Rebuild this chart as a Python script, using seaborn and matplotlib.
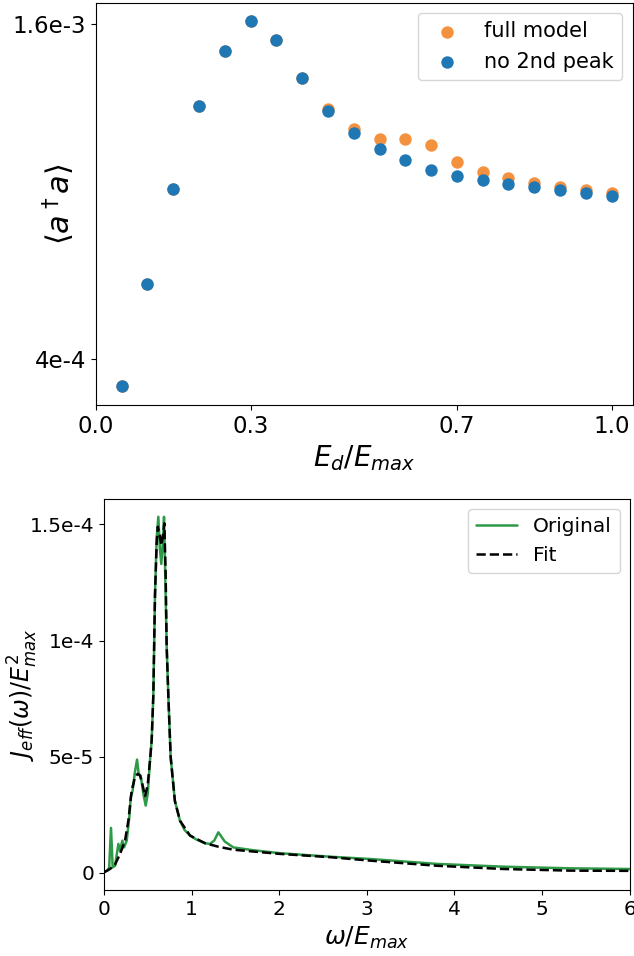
import matplotlib
matplotlib.use("Agg")
import matplotlib.pyplot as plt
import seaborn as sns
import numpy as np
from matplotlib.ticker import NullLocator, FixedLocator

# top panel: occupation vs drive strength
E_d = [0.05, 0.10, 0.15, 0.20, 0.25, 0.30, 0.35, 0.40, 0.45, 0.50,
       0.55, 0.60, 0.65, 0.70, 0.75, 0.80, 0.85, 0.90, 0.95, 1.00]
n_full = [3.57e-4, 5.45e-4, 8.06e-4, 1.139e-3, 1.429e-3, 1.62e-3, 1.499e-3, 1.277e-3,
          1.126e-3, 1.037e-3, 0.994e-3, 0.994e-3, 0.968e-3, 0.904e-3, 0.866e-3,
          0.844e-3, 0.829e-3, 0.815e-3, 0.803e-3, 0.794e-3]
n_no2nd = [3.57e-4, 5.45e-4, 8.06e-4, 1.139e-3, 1.429e-3, 1.62e-3, 1.499e-3, 1.277e-3,
           1.115e-3, 1.018e-3, 0.954e-3, 0.909e-3, 0.874e-3, 0.853e-3, 0.837e-3,
           0.824e-3, 0.814e-3, 0.804e-3, 0.795e-3, 0.785e-3]

# bottom panel: effective spectral density (units of 1e-6)
omega_orig = [0.0, 0.04, 0.06, 0.081, 0.10, 0.127, 0.165, 0.184, 0.21, 0.229, 0.26,
              0.29, 0.306, 0.328, 0.351, 0.378, 0.397, 0.42, 0.45, 0.477, 0.50,
              0.526, 0.545, 0.564, 0.583, 0.602, 0.621, 0.638, 0.655, 0.672, 0.686,
              0.697, 0.716, 0.735, 0.762, 0.81, 0.868, 0.92, 0.983, 1.05, 1.154,
              1.211, 1.26, 1.306, 1.38, 1.477, 1.7, 2.01, 2.58, 3.04, 3.8, 4.56,
              5.32, 6.0]
J_orig = [0.3, 1.0, 2.4, 19.4, 2.4, 3.1, 12.5, 9.6, 13.9, 11.0, 13.9,
          24.0, 32.6, 35.5, 42.7, 48.8, 42.7, 41.9, 34.0, 29.0, 34.0,
          48.4, 57.0, 76.5, 119.5, 144.0, 153.3, 140.0, 133.0, 142.0, 153.3,
          133.9, 98.0, 76.5, 49.8, 31.0, 22.5, 18.5, 16.1, 14.5, 12.8,
          12.5, 14.0, 17.5, 13.5, 11.0, 9.8, 8.5, 7.0, 6.0, 3.9, 2.7,
          2.0, 1.7]
omega_fit = [0.0, 0.07, 0.127, 0.184, 0.241, 0.279, 0.317, 0.355, 0.386, 0.412,
             0.438, 0.47, 0.50, 0.526, 0.545, 0.564, 0.583, 0.602, 0.615, 0.635,
             0.655, 0.672, 0.69, 0.705, 0.716, 0.735, 0.762, 0.81, 0.868, 0.983,
             1.154, 1.306, 1.477, 2.01, 2.58, 3.04, 3.8, 4.56, 5.32, 6.0]
J_fit = [0.3, 1.7, 3.6, 8.2, 13.9, 22.5, 35.5, 41.2, 42.7, 41.9,
         38.4, 33.0, 38.0, 48.4, 57.0, 76.5, 119.5, 142.0, 149.0, 146.0,
         141.0, 145.0, 150.5, 128.0, 98.0, 76.5, 49.8, 31.0, 22.5, 16.1,
         12.8, 11.3, 10.0, 8.2, 6.8, 5.3, 3.1, 1.7, 1.0, 0.9]

sns.set_style("ticks", {"axes.edgecolor": "black", "text.color": "black",
                        "axes.labelcolor": "black", "xtick.color": "black",
                        "ytick.color": "black"})
plt.rcParams["font.family"] = ["DejaVu Sans"]
plt.rcParams["mathtext.fontset"] = "dejavusans"

fig = plt.figure(figsize=(6.34, 9.56), dpi=100)
ax1 = fig.add_axes([0.1511, 0.5764, 0.847, 0.4208])
ax2 = fig.add_axes([0.1639, 0.069, 0.8292, 0.409])

sns.scatterplot(x=E_d, y=n_full, ax=ax1, color="#f4913f", s=80, linewidth=0,
                label="full model")
sns.scatterplot(x=E_d, y=n_no2nd, ax=ax1, color="#1f77b4", s=80, linewidth=0,
                label="no 2nd peak")
ax1.set_yscale("log")
ax1.set_xlim(0, 1.041)
ax1.set_ylim(3.3e-4, 1.747e-3)
ax1.yaxis.set_major_locator(FixedLocator([4e-4, 1.6e-3]))
ax1.yaxis.set_minor_locator(NullLocator())
ax1.set_yticklabels(["4e-4", "1.6e-3"])
ax1.set_xticks([0.0, 0.3, 0.7, 1.0])
ax1.set_xticklabels(["0.0", "0.3", "0.7", "1.0"])
ax1.tick_params(labelsize=16.5)
ax1.set_xlabel(r"$E_d/E_{max}$", fontsize=20)
ax1.set_ylabel(r"$\langle a^\dagger a \rangle$", fontsize=22)
ax1.yaxis.set_label_coords(-0.035, 0.5)
ax1.legend(fontsize=15, frameon=True, loc="upper right")

sns.lineplot(x=omega_orig, y=np.array(J_orig) * 1e-6, ax=ax2, color="#2e9a48",
             linewidth=1.8, label="Original")
sns.lineplot(x=omega_fit, y=np.array(J_fit) * 1e-6, ax=ax2, color="black",
             linewidth=1.8, linestyle="--", label="Fit")
ax2.set_xlim(0, 6)
ax2.set_yticks([0, 5e-5, 1e-4, 1.5e-4])
ax2.set_yticklabels(["0", "5e-5", "1e-4", "1.5e-4"])
ax2.set_xticks(range(7))
ax2.tick_params(labelsize=14.5)
ax2.set_xlabel(r"$\omega/E_{max}$", fontsize=18)
ax2.set_ylabel(r"$J_{eff}(\omega)/E_{max}^2$", fontsize=17)
ax2.yaxis.set_label_coords(-0.122, 0.5)
ax2.legend(fontsize=14.5, frameon=True, loc="upper right")

fig.savefig("out.png", dpi=100)
